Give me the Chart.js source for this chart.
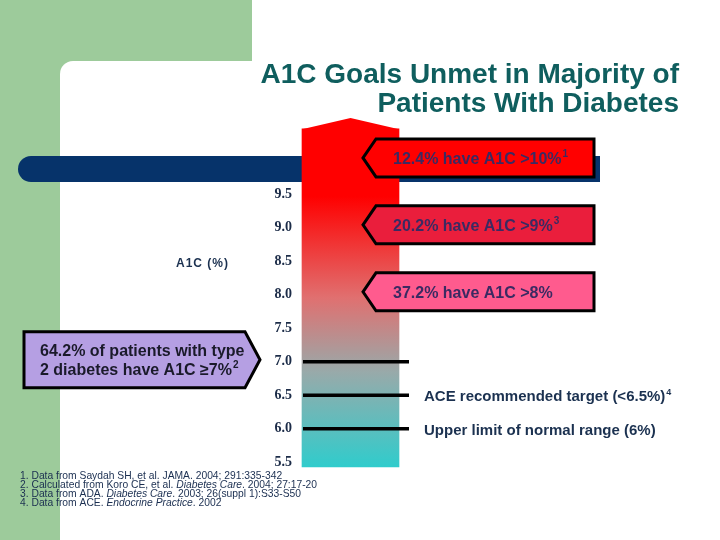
<!DOCTYPE html>
<html>
<head>
<meta charset="utf-8">
<script src="https://cdn.jsdelivr.net/npm/chart.js@4/dist/chart.umd.min.js"></script>
<style>
  html, body { margin: 0; padding: 0; background: #fff; }
</style>
</head>
<body>
<canvas id="chart" width="720" height="540"></canvas>
<script>
// values
const categories = ["A1C (%)"];
const barRange = [[5.43, 10.48]];
const barPeak = [10.64];
const yTicks = [5.5, 6.0, 6.5, 7.0, 7.5, 8.0, 8.5, 9.0, 9.5];

const calloutLevels = [10, 9, 8];
const calloutLabels = ["12.4% have A1C >10%", "20.2% have A1C >9%", "37.2% have A1C >8%"];
const calloutRefs = ["1", "3", ""];
const calloutColors = ["#ff0000", "#ea1e3c", "#ff5b8e"];

const refLines = [7.0, 6.5, 6.0];
const refLabels = ["", "ACE recommended target (<6.5%)", "Upper limit of normal range (6%)"];
const refSups = ["", "4", ""];

const patientLevel = 7.0;
const patientLines = ["64.2% of patients with type", "2 diabetes have A1C \u22657%"];
const patientRef = "2";

const titleLines = ["A1C Goals Unmet in Majority of", "Patients With Diabetes"];
const footnotes = [
  [["1. Data from Saydah SH, et al. JAMA. 2004; 291:335-342", false]],
  [["2. Calculated from Koro CE, et al. ", false], ["Diabetes Care", true], [". 2004; 27:17-20", false]],
  [["3. Data from ADA. ", false], ["Diabetes Care", true], [". 2003; 26(suppl 1):S33-S50", false]],
  [["4. Data from ACE. ", false], ["Endocrine Practice", true], [". 2002", false]],
];

const SANS = "'Liberation Sans', Arial, sans-serif";

const textWithSup = (g, text, sup, x, y, size, color) => {
  g.fillStyle = color;
  g.font = `bold ${size}px ${SANS}`;
  g.fillText(text, x, y);
  if (sup) {
    const w = g.measureText(text).width;
    g.font = `bold ${Math.round(size * 0.6)}px ${SANS}`;
    g.fillText(sup, x + w + 1, y - size * 0.42);
  }
};

const slidePlugin = {
  id: "slide",
  beforeDraw(chart) {
    const g = chart.ctx;
    g.save();
    g.fillStyle = "#ffffff";
    g.fillRect(0, 0, chart.width, chart.height);
    // green frame with rounded inner corner
    g.fillStyle = "#9dcb9b";
    g.fillRect(0, 0, 252, 75);
    g.fillRect(0, 0, 75, chart.height);
    g.fillStyle = "#ffffff";
    g.beginPath();
    g.roundRect(60, 61, 700, 600, [13, 0, 0, 0]);
    g.fill();
    g.restore();
  },
  beforeDatasetsDraw(chart) {
    const g = chart.ctx;
    g.save();
    g.fillStyle = "#06336a";
    g.beginPath();
    g.roundRect(18, 156, 582, 26, [13, 0, 0, 13]);
    g.fill();
    g.restore();
  },
  afterDatasetsDraw(chart) {
    const g = chart.ctx;
    const y = chart.scales.y;
    const bar = chart.getDatasetMeta(0).data[0];
    const { x, y: by, base, width } = bar.getProps(["x", "y", "base", "width"], true);
    const top = Math.min(by, base);
    g.save();

    // pointed cap on the bar
    g.fillStyle = "#ff0000";
    g.beginPath();
    g.moveTo(x - width / 2, top + 0.5);
    g.lineTo(x, y.getPixelForValue(barPeak[0]));
    g.lineTo(x + width / 2, top + 0.5);
    g.closePath();
    g.fill();

    // reference lines and labels
    refLines.forEach((v, i) => {
      const ly = y.getPixelForValue(v);
      g.strokeStyle = "#000";
      g.lineWidth = 3.5;
      g.beginPath();
      g.moveTo(x - width / 2 + 1, ly);
      g.lineTo(x + width / 2 + 10, ly);
      g.stroke();
      if (refLabels[i]) textWithSup(g, refLabels[i], refSups[i], 424, ly + 6, 15, "#1b3150");
    });

    // callouts pointing at the bar
    calloutLevels.forEach((v, i) => {
      const cy = y.getPixelForValue(v) - 3;
      const h = 19;
      g.fillStyle = calloutColors[i];
      g.strokeStyle = "#000";
      g.lineWidth = 3;
      g.lineJoin = "miter";
      g.beginPath();
      g.moveTo(363, cy);
      g.lineTo(376, cy - h);
      g.lineTo(594, cy - h);
      g.lineTo(594, cy + h);
      g.lineTo(376, cy + h);
      g.closePath();
      g.fill();
      g.stroke();
      textWithSup(g, calloutLabels[i], calloutRefs[i], 393, cy + 6, 16, "#3b2a62");
    });

    // patients callout
    const py = y.getPixelForValue(patientLevel) - 2;
    g.fillStyle = "#b59fe3";
    g.strokeStyle = "#000";
    g.lineWidth = 3;
    g.beginPath();
    g.moveTo(24, py - 28);
    g.lineTo(245, py - 28);
    g.lineTo(260, py);
    g.lineTo(245, py + 28);
    g.lineTo(24, py + 28);
    g.closePath();
    g.fill();
    g.stroke();
    textWithSup(g, patientLines[0], "", 40, py - 4, 16, "#1a1a2a");
    textWithSup(g, patientLines[1], patientRef, 40, py + 15, 16, "#1a1a2a");
    g.restore();
  },
  afterDraw(chart) {
    const g = chart.ctx;
    g.save();
    // title
    g.fillStyle = "#0f5e5e";
    g.font = `bold 28px ${SANS}`;
    g.textAlign = "right";
    g.fillText(titleLines[0], 679, 83);
    g.fillText(titleLines[1], 679, 112);
    g.textAlign = "left";

    // axis caption
    g.fillStyle = "#1b3150";
    g.font = `bold 12px ${SANS}`;
    g.letterSpacing = "1px";
    g.fillText(categories[0], 176, 267);
    g.letterSpacing = "0px";

    // footnotes
    g.fillStyle = "#1a2e50";
    footnotes.forEach((line, i) => {
      let fx = 20;
      const fy = 478.5 + i * 9.3;
      line.forEach(([txt, it]) => {
        g.font = `${it ? "italic " : ""}10.3px ${SANS}`;
        g.fillText(txt, fx, fy);
        fx += g.measureText(txt).width;
      });
    });
    g.restore();
  },
};

const ctx = document.getElementById("chart").getContext("2d");
const chart = new Chart(ctx, {
  type: "bar",
  data: {
    labels: categories,
    datasets: [
      {
        data: barRange,
        barThickness: 97,
        borderWidth: 0,
        backgroundColor: (c) => {
          const ch = c.chart;
          if (!ch.chartArea) return "#ff0000";
          const ys = ch.scales.y;
          const top = ys.getPixelForValue(barRange[0][1]);
          const bot = ys.getPixelForValue(barRange[0][0]);
          const gr = ch.ctx.createLinearGradient(0, top, 0, bot);
          gr.addColorStop(0, "#ff0000");
          gr.addColorStop(0.2, "#ff0000");
          gr.addColorStop(0.5, "#e07070");
          gr.addColorStop(0.72, "#98aaaa");
          gr.addColorStop(1, "#30cccc");
          return gr;
        },
      },
    ],
  },
  options: {
    responsive: false,
    animation: false,
    devicePixelRatio: 1,
    layout: { padding: { left: 240, right: 319, top: 114, bottom: 71 } },
    plugins: { legend: { display: false }, tooltip: { enabled: false } },
    scales: {
      x: { display: false },
      y: {
        min: 5.4,
        max: 10.7,
        afterBuildTicks: (scale) => {
          scale.ticks = yTicks.map((v) => ({ value: v }));
        },
        afterFit: (scale) => {
          scale.width = 60;
        },
        grid: { display: false, drawTicks: false },
        border: { display: false },
        ticks: {
          padding: 8,
          color: "#1c2c48",
          font: { family: "'Liberation Serif', 'DejaVu Serif', serif", size: 14, weight: "bold" },
          callback: (v) => Number(v).toFixed(1),
        },
      },
    },
  },
  plugins: [slidePlugin],
});
</script>
</body>
</html>
